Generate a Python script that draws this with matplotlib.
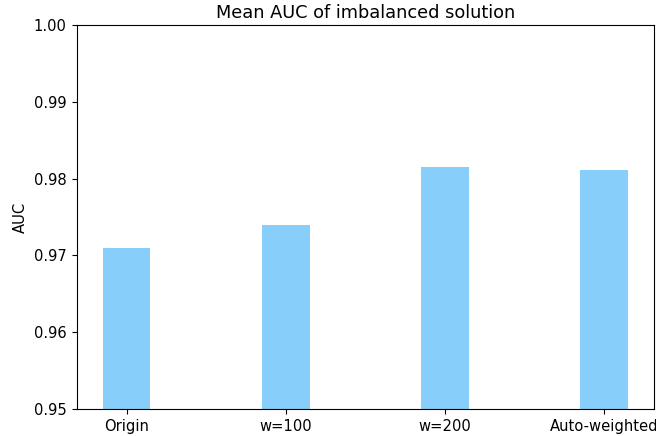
import matplotlib
matplotlib.use("Agg")
import matplotlib.pyplot as plt

categories = ["Origin", "w=100", "w=200", "Auto-weighted"]
auc_values = [0.971, 0.974, 0.9815, 0.9811]

fig = plt.figure(figsize=(6.56, 4.36), dpi=100)
ax = fig.add_axes([76.5/656, 1-409/436, (654-76.5)/656, (409-25)/436])
x = range(len(categories))
ax.bar(x, auc_values, width=0.3, color="lightskyblue")
ax.set_xticks(list(x))
ax.set_xticklabels(categories)
ax.set_ylim(0.95, 1.0)
ax.set_yticks([0.95, 0.96, 0.97, 0.98, 0.99, 1.00])
ax.tick_params(labelsize=10.6)
ax.set_ylabel("AUC", fontsize=10.6)
ax.set_title("Mean AUC of imbalanced solution", fontsize=12.8, pad=5)
fig.savefig("out.png", dpi=100)
